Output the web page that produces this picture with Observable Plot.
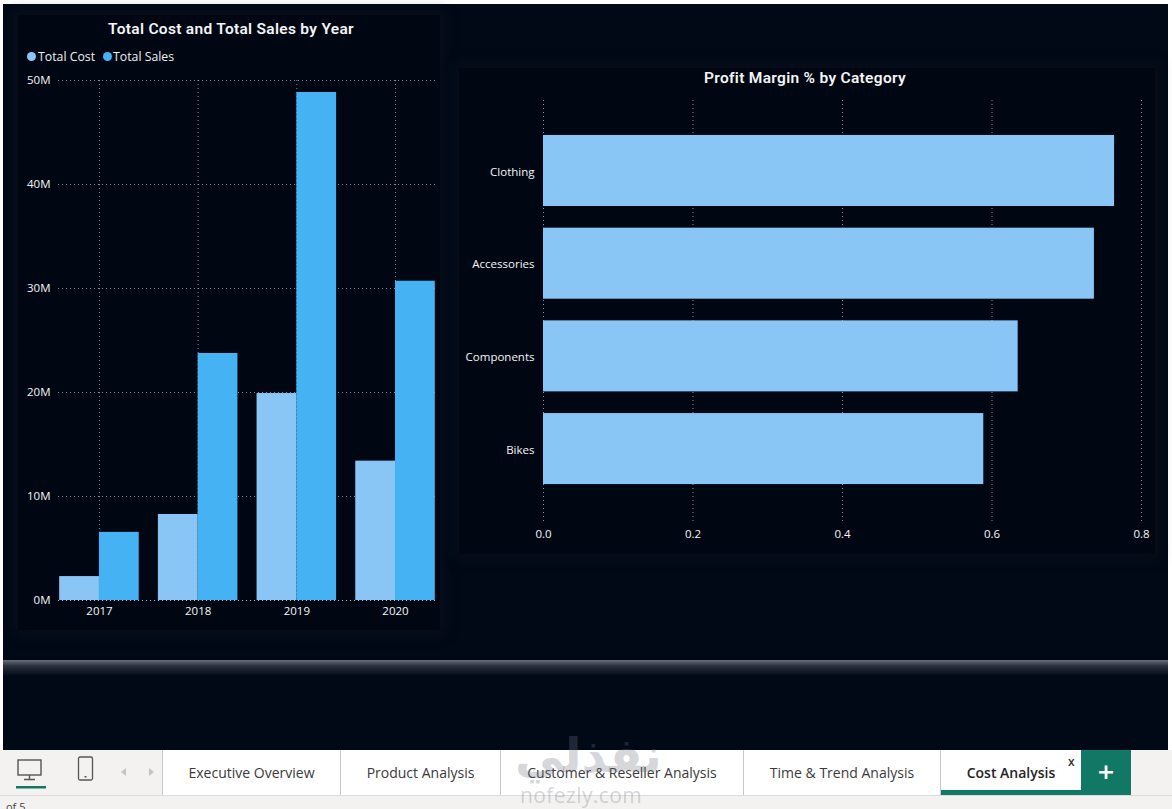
<!DOCTYPE html>
<html><head><meta charset="utf-8">
<script src="https://cdn.jsdelivr.net/npm/d3@7"></script>
<script src="https://cdn.jsdelivr.net/npm/@observablehq/plot@0.6"></script>
<style>
html,body{margin:0;padding:0;background:#fff;overflow:hidden}
#page{position:relative;width:1172px;height:809px;overflow:hidden;font-family:"Open Sans",sans-serif;background:#fff}
.abs{position:absolute}
#canvas{left:3px;top:4px;width:1165px;height:746px;background:#010917}
.panel{background:#010712;box-shadow:0 0 12px 5px rgba(22,25,32,.35)}
#sep{left:3px;top:660px;width:1165px;height:16px;background:linear-gradient(#6a707c,#2c323e 35%,#010917)}
.title{color:#f3f5f7;font-family:"Roboto",sans-serif;font-weight:600;font-size:15.5px;letter-spacing:.3px;white-space:nowrap;transform:translateX(-50%)}
.leg{color:#eef1f4;font-size:12.3px;font-weight:500;white-space:nowrap;top:48px}
.dot{width:9px;height:9px;border-radius:50%;top:52px}
#tabs{left:0;top:750px;width:1172px;height:45px;background:#f3f2f1}
#status{left:0;top:795px;width:1172px;height:14px;background:#f3f2f1;border-top:1px solid #dcdcdc;box-sizing:border-box}
.tab{position:absolute;top:0;height:45px;background:#fff;border-left:1px solid #c8c8c8;box-sizing:border-box;text-align:center;line-height:45px;font-size:14px;color:#3a3a3a;white-space:nowrap}
.wm{color:rgba(110,115,130,.3);white-space:nowrap}
</style></head>
<body><div id="page">
<div class="abs" id="canvas"></div>
<div class="abs panel" style="left:18px;top:15px;width:422px;height:615px"></div>
<div class="abs panel" style="left:459px;top:68px;width:696px;height:486px"></div>
<div class="abs" id="sep"></div>
<div class="abs title" style="left:231px;top:20px">Total Cost and Total Sales by Year</div>
<div class="abs dot" style="left:27px;background:#8AC6F5"></div>
<div class="abs leg" style="left:38px">Total Cost</div>
<div class="abs dot" style="left:103px;background:#45B2F4"></div>
<div class="abs leg" style="left:113px">Total Sales</div>
<div class="abs title" style="left:805px;top:69px">Profit Margin % by Category</div>
<div class="abs" id="left" style="left:0;top:60px"></div>
<div class="abs" id="right" style="left:450px;top:60px"></div>
<div class="abs" id="tabs">
  <svg class="abs" style="left:0;top:0" width="160" height="45">
    <rect x="18" y="10" width="23" height="15" fill="none" stroke="#555" stroke-width="1.4"/>
    <path d="M29.5 25v4M24 29.5h11" stroke="#555" stroke-width="1.4"/>
    <rect x="16" y="36" width="30" height="2.5" fill="#117865"/>
    <rect x="78.5" y="7" width="14" height="23" rx="1.5" fill="none" stroke="#555" stroke-width="1.3"/>
    <rect x="84.5" y="26" width="2" height="1.5" fill="#555"/>
    <path d="M126 18l-5 4 5 4zM149 18l5 4-5 4z" fill="#c4c4c4"/>
  </svg>
  <div class="tab" style="left:162px;width:178px">Executive Overview</div>
  <div class="tab" style="left:340px;width:160px">Product Analysis</div>
  <div class="tab" style="left:500px;width:243px">Customer &amp; Reseller Analysis</div>
  <div class="tab" style="left:743px;width:197px">Time &amp; Trend Analysis</div>
  <div class="tab" style="left:940px;width:141px;font-weight:600;color:#252525;padding-right:0">Cost Analysis</div>
  <div class="abs" style="left:941px;top:40px;width:140px;height:5px;background:#117865"></div>
  <div class="abs" style="left:1068px;top:3px;font-size:12px;font-weight:600;color:#333">x</div>
  <div class="abs" style="left:1081px;top:0;width:50px;height:45px;background:#117865;color:#fff;text-align:center;font:700 22px/43px 'DejaVu Sans',sans-serif">+</div>
</div>
<div class="abs" id="status"><span class="abs" style="left:6px;top:3px;font-size:11px;color:#444">of 5</span></div>
<div class="abs wm" style="left:515px;top:727px;font:700 48px 'DejaVu Sans',sans-serif" dir="rtl">نفذلي</div>
<div class="abs wm" style="left:520px;top:781px;font:400 21px 'Open Sans',sans-serif;letter-spacing:.4px">nofezly.com</div>
</div>
<script>
const years = [2017, 2018, 2019, 2020];
const totalCost = [2.3e6, 8.27e6, 19.9e6, 13.4e6];
const totalSales = [6.55e6, 23.75e6, 48.85e6, 30.7e6];
const categories = ["Clothing", "Accessories", "Components", "Bikes"];
const margins = [0.764, 0.737, 0.635, 0.589];
const yTicks = [0, 10e6, 20e6, 30e6, 40e6, 50e6];
const xTicks = [0, 0.2, 0.4, 0.6, 0.8];
const barSpan = 0.403;

const costRows = years.map((year, i) => ({year, value: totalCost[i], x1: year - barSpan, x2: year}));
const salesRows = years.map((year, i) => ({year, value: totalSales[i], x1: year, x2: year + barSpan}));
const marginRows = categories.map((category, i) => ({category, value: margins[i]}));

const font = '"Open Sans", sans-serif';
const grid = {stroke: "#dfe5ea", strokeOpacity: 0.62, strokeWidth: 1, strokeDasharray: "1 3"};
const textColor = "#f4f6f8";
const textStyle = {background: "transparent", color: textColor, fontFamily: font, fontSize: "11.5px", fontWeight: 500};

document.getElementById("left").append(Plot.plot({
  width: 445, height: 570, marginLeft: 58, marginRight: 10, marginTop: 20, marginBottom: 30,
  style: textStyle,
  x: {domain: [2016.585, 2020.405], label: null},
  y: {domain: [0, 50e6], label: null},
  marks: [
    Plot.gridX({ticks: years, ...grid}),
    Plot.gridY({ticks: yTicks, ...grid}),
    Plot.rectY(costRows, {x1: "x1", x2: "x2", y: "value", fill: "#8AC6F5"}),
    Plot.rectY(salesRows, {x1: "x1", x2: "x2", y: "value", fill: "#45B2F4"}),
    Plot.ruleY([0], {...grid}),
    Plot.axisY({ticks: yTicks, tickFormat: d => d / 1e6 + "M", tickSize: 0, tickPadding: 8, label: null}),
    Plot.axisX({ticks: years, tickFormat: d => String(d), tickSize: 0, tickPadding: 6, label: null})
  ]
}));

document.getElementById("right").append(Plot.plot({
  width: 722, height: 490, marginLeft: 93, marginRight: 31, marginTop: 40, marginBottom: 26,
  style: textStyle,
  x: {domain: [0, 0.8], label: null},
  y: {domain: categories, paddingInner: 0.234, paddingOuter: 0.404, align: 0.467, round: false, label: null},
  marks: [
    Plot.gridX({ticks: xTicks, ...grid}),
    Plot.barX(marginRows, {x: "value", y: "category", fill: "#8AC6F5"}),
    Plot.axisY({tickSize: 0, tickPadding: 9, dy: 1, label: null}),
    Plot.axisX({ticks: xTicks, tickFormat: d3.format(".1f"), tickSize: 0, tickPadding: 5, label: null})
  ]
}));
</script>
</body></html>
